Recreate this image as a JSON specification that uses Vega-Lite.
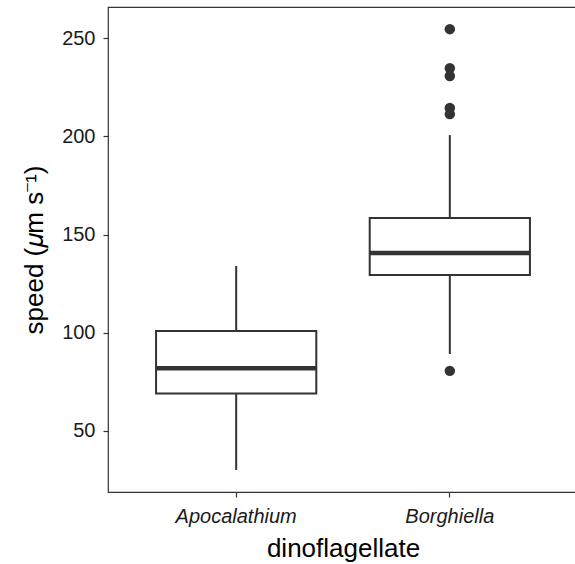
{
  "$schema": "https://vega.github.io/schema/vega-lite/v6.json",
  "width": 470,
  "height": 485,
  "autosize": "none",
  "padding": {"left": 108, "top": 7, "right": 0, "bottom": 72},
  "background": "white",
  "config": {
    "view": {"stroke": "#333333", "strokeWidth": 1.2},
    "font": "Liberation Sans",
    "axis": {
      "domain": false,
      "grid": false,
      "tickColor": "#333333",
      "tickSize": 5,
      "tickWidth": 1.2,
      "labelColor": "#1a1a1a",
      "labelFontSize": 20,
      "labelFont": "Liberation Sans",
      "titleFont": "Liberation Sans",
      "titleFontSize": 26,
      "titleFontWeight": "normal",
      "titleColor": "#000000"
    }
  },
  "datasets": {
    "boxes": [
      {"dinoflagellate": "Apocalathium", "lower": 30, "q1": 69, "median": 81.8, "q3": 100.8, "upper": 134},
      {"dinoflagellate": "Borghiella", "lower": 89.1, "q1": 129.4, "median": 140.6, "q3": 158.4, "upper": 200.7}
    ],
    "outliers": [
      {"dinoflagellate": "Borghiella", "speed": 254.7},
      {"dinoflagellate": "Borghiella", "speed": 234.8},
      {"dinoflagellate": "Borghiella", "speed": 230.8},
      {"dinoflagellate": "Borghiella", "speed": 214.5},
      {"dinoflagellate": "Borghiella", "speed": 211.4},
      {"dinoflagellate": "Borghiella", "speed": 80.5}
    ]
  },
  "encoding": {
    "x": {
      "field": "dinoflagellate",
      "type": "nominal",
      "scale": {"type": "band", "paddingInner": 0.25, "paddingOuter": 0.225},
      "axis": {
        "title": "dinoflagellate",
        "labelAngle": 0,
        "labelFontStyle": "italic",
        "bandPosition": 0.5,
        "labelPadding": 9,
        "titlePadding": 9
      }
    }
  },
  "layer": [
    {
      "data": {"name": "boxes"},
      "mark": {"type": "rule", "color": "#333333", "strokeWidth": 2},
      "encoding": {
        "y": {
          "field": "lower",
          "type": "quantitative",
          "scale": {"domain": [18.75, 266], "nice": false, "zero": false},
          "axis": {
            "title": "speed (𝜇m s⁻¹)",
            "values": [50, 100, 150, 200, 250],
            "labelPadding": 8,
            "titlePadding": 14
          }
        },
        "y2": {"field": "upper"}
      }
    },
    {
      "data": {"name": "boxes"},
      "mark": {"type": "bar", "fill": "white", "stroke": "#333333", "strokeWidth": 2},
      "encoding": {
        "y": {"field": "q1", "type": "quantitative"},
        "y2": {"field": "q3"}
      }
    },
    {
      "data": {"name": "boxes"},
      "mark": {"type": "tick", "color": "#333333", "thickness": 4.5, "size": 160, "opacity": 1},
      "encoding": {
        "y": {"field": "median", "type": "quantitative"}
      }
    },
    {
      "data": {"name": "outliers"},
      "mark": {"type": "circle", "color": "#333333", "size": 110, "opacity": 1},
      "encoding": {
        "y": {"field": "speed", "type": "quantitative"}
      }
    }
  ]
}
